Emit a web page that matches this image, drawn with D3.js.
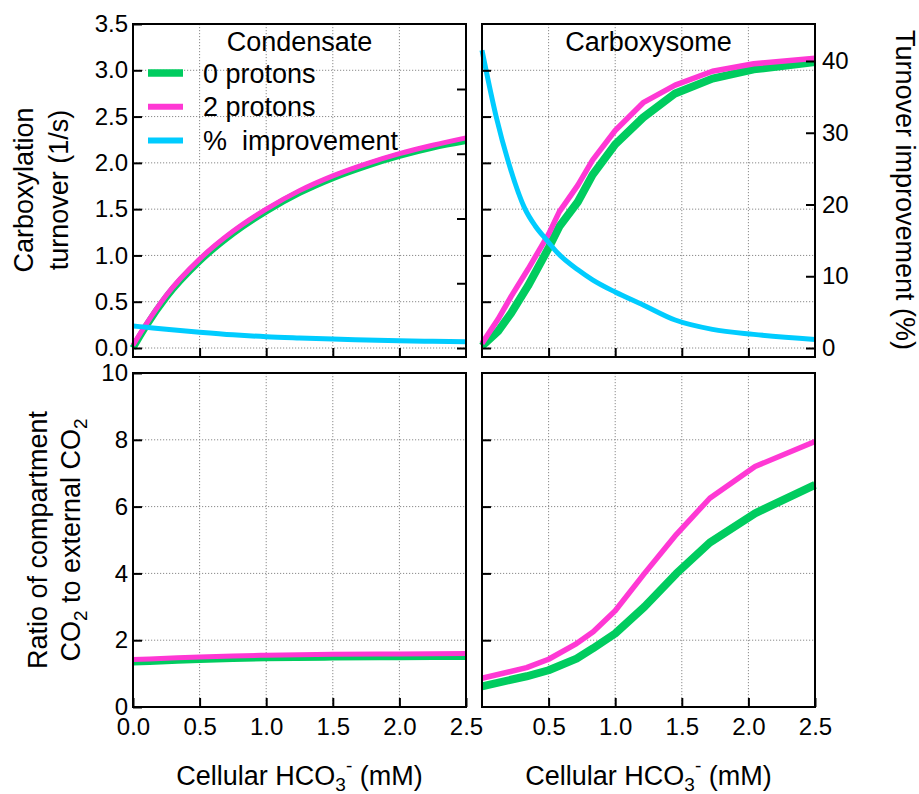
<!DOCTYPE html>
<html>
<head>
<meta charset="utf-8">
<script src="https://cdn.jsdelivr.net/npm/d3@7"></script>
<style>
body { margin: 0; background: #fff; }
text { font-family: "Liberation Sans", Arial, Helvetica, sans-serif; fill: #000; }
</style>
</head>
<body>
<svg id="chart" width="919" height="794"></svg>
<script>

// ---- data ----
var xTicks = [0, 0.5, 1.0, 1.5, 2.0, 2.5];
var turnTicks = [0, 0.5, 1.0, 1.5, 2.0, 2.5, 3.0, 3.5];
var pctTicks = [0, 10, 20, 30, 40];
var ratioTicks = [0, 2, 4, 6, 8, 10];

// condensate, turnover (1/s)
var condX = [0, 0.1, 0.25, 0.5, 0.75, 1.0, 1.25, 1.5, 1.75, 2.0, 2.25, 2.5];
var condTurn0 = [0.0, 0.24, 0.55, 0.94, 1.24, 1.48, 1.68, 1.84, 1.97, 2.08, 2.17, 2.24];
var condTurn2 = [0.03, 0.26, 0.57, 0.96, 1.26, 1.50, 1.70, 1.86, 1.99, 2.10, 2.19, 2.27];
var condImprove = [3.4, 3.2, 2.9, 2.45, 2.05, 1.75, 1.55, 1.38, 1.25, 1.12, 1.04, 0.97];

// carboxysome, turnover (1/s)
var carbTurnX = [0, 0.12, 0.22, 0.345, 0.5, 0.58, 0.72, 0.83, 1.0, 1.21, 1.45, 1.73, 2.04, 2.5];
var carbTurn0 = [0.02, 0.18, 0.38, 0.67, 1.08, 1.31, 1.58, 1.87, 2.2, 2.49, 2.75, 2.91, 3.01, 3.09];
var carbTurn2 = [0.05, 0.31, 0.56, 0.85, 1.23, 1.47, 1.76, 2.03, 2.35, 2.65, 2.84, 2.99, 3.07, 3.13];
var carbImpX = [0, 0.107, 0.2, 0.32, 0.4, 0.483, 0.57, 0.72, 0.83, 1.0, 1.21, 1.45, 1.73, 2.04, 2.5];
var carbImprove = [41.5, 32.2, 25.8, 19.5, 17.0, 15.1, 13.2, 10.9, 9.5, 7.8, 6.0, 3.9, 2.6, 1.9, 1.2];

// ratio of compartment CO2 to external CO2
var ratioCondX = [0, 0.25, 0.5, 0.75, 1.0, 1.5, 2.0, 2.5];
var ratioCond0 = [1.33, 1.37, 1.41, 1.44, 1.46, 1.48, 1.49, 1.50];
var ratioCond2 = [1.42, 1.46, 1.50, 1.53, 1.55, 1.58, 1.59, 1.60];
var ratioCarbX = [0, 0.335, 0.5, 0.71, 0.835, 1.0, 1.22, 1.46, 1.71, 2.05, 2.5];
var ratioCarb0 = [0.62, 0.92, 1.1, 1.45, 1.76, 2.2, 3.0, 4.0, 4.92, 5.8, 6.65];
var ratioCarb2 = [0.86, 1.18, 1.43, 1.9, 2.25, 2.88, 4.0, 5.17, 6.25, 7.2, 7.95];

var seriesNames = ["0 protons", "2 protons", "%  improvement"];

// ---- styles ----
var green = "#00cc5f", magenta = "#ff38d4", cyan = "#00ccff";
var tickFont = 24, labelFont = 27;

var svg = d3.select("#chart");

// scales
var xLeft = d3.scaleLinear().domain([0, 2.5]).range([133, 466]);
var xRight = d3.scaleLinear().domain([0, 2.5]).range([482, 815]);
var yTurn = d3.scaleLinear().domain([0, 3.5]).range([348, 24]);
var yPctCond = d3.scaleLinear().domain([0, 40]).range([348, 89]);
var yPctCarb = d3.scaleLinear().domain([0, 40]).range([348, 61]);
var yRatio = d3.scaleLinear().domain([0, 10]).range([707, 373]);

var topBox = [24, 357];
var bottomBox = [373, 707];

function styleAxis(g) {
    g.select(".domain").remove();
    g.selectAll(".tick line").attr("stroke", "#000").attr("stroke-width", 2);
    g.selectAll(".tick text").attr("font-size", tickFont).attr("fill", "#000")
        .attr("font-family", "'Liberation Sans', Arial, sans-serif");
}

function drawGrid(xs, ys, xVals, yVals, box) {
    var g = svg.append("g").attr("class", "grid");
    g.selectAll("line.gx").data(xVals).enter().append("line")
        .attr("x1", xs).attr("x2", xs).attr("y1", box[0]).attr("y2", box[1]);
    g.selectAll("line.gy").data(yVals).enter().append("line")
        .attr("y1", ys).attr("y2", ys).attr("x1", xs.range()[0]).attr("x2", xs.range()[1]);
    g.selectAll("line").attr("stroke", "#8a8a8a").attr("stroke-width", 1)
        .attr("stroke-dasharray", "1.2,1.8");
}

function drawLine(xs, ys, xArr, yArr, color, width, curve) {
    var pts = xArr.map(function (x, i) { return [x, yArr[i]]; });
    svg.append("path").datum(pts)
        .attr("fill", "none").attr("stroke", color).attr("stroke-width", width)
        .attr("stroke-linejoin", "round")
        .attr("d", d3.line().x(function (d) { return xs(d[0]); })
            .y(function (d) { return ys(d[1]); }).curve(curve));
}

function drawFrame(xs, box) {
    svg.append("rect")
        .attr("x", xs.range()[0]).attr("y", box[0])
        .attr("width", xs.range()[1] - xs.range()[0]).attr("height", box[1] - box[0])
        .attr("fill", "none").attr("stroke", "#000").attr("stroke-width", 2);
}

var inner = [0.5, 1.0, 1.5, 2.0];

// ---- grids ----
drawGrid(xLeft, yTurn, inner, turnTicks.slice(0, 7), topBox);
drawGrid(xRight, yTurn, inner, turnTicks.slice(0, 7), topBox);
drawGrid(xLeft, yRatio, inner, [2, 4, 6, 8], bottomBox);
drawGrid(xRight, yRatio, inner, [2, 4, 6, 8], bottomBox);

// ---- data lines ----
drawLine(xLeft, yTurn, condX, condTurn0, green, 7, d3.curveMonotoneX);
drawLine(xLeft, yTurn, condX, condTurn2, magenta, 5, d3.curveMonotoneX);
drawLine(xLeft, yPctCond, condX, condImprove, cyan, 5, d3.curveMonotoneX);

drawLine(xRight, yTurn, carbTurnX, carbTurn0, green, 8, d3.curveLinear);
drawLine(xRight, yTurn, carbTurnX, carbTurn2, magenta, 5.5, d3.curveLinear);
drawLine(xRight, yPctCarb, carbImpX, carbImprove, cyan, 5, d3.curveMonotoneX);

drawLine(xLeft, yRatio, ratioCondX, ratioCond0, green, 6, d3.curveMonotoneX);
drawLine(xLeft, yRatio, ratioCondX, ratioCond2, magenta, 5, d3.curveMonotoneX);

drawLine(xRight, yRatio, ratioCarbX, ratioCarb0, green, 8, d3.curveLinear);
drawLine(xRight, yRatio, ratioCarbX, ratioCarb2, magenta, 5.5, d3.curveLinear);

// ---- frames ----
drawFrame(xLeft, topBox);
drawFrame(xRight, topBox);
drawFrame(xLeft, bottomBox);
drawFrame(xRight, bottomBox);

// ---- axes (ticks point inward) ----
svg.append("g").attr("transform", "translate(133,0)")
    .call(d3.axisLeft(yTurn).tickValues(turnTicks).tickFormat(d3.format(".1f"))
        .tickSizeInner(-9).tickSizeOuter(0).tickPadding(5))
    .call(styleAxis);
svg.append("g").attr("transform", "translate(466,0)")
    .call(d3.axisRight(yPctCond).tickValues(pctTicks).tickFormat("")
        .tickSizeInner(-9).tickSizeOuter(0))
    .call(styleAxis);
svg.append("g").attr("transform", "translate(0,357)")
    .call(d3.axisBottom(xLeft).tickValues(inner).tickFormat("")
        .tickSizeInner(-9).tickSizeOuter(0))
    .call(styleAxis);

svg.append("g").attr("transform", "translate(482,0)")
    .call(d3.axisLeft(yTurn).tickValues(turnTicks.slice(0, 7)).tickFormat("")
        .tickSizeInner(-9).tickSizeOuter(0))
    .call(styleAxis);
svg.append("g").attr("transform", "translate(815,0)")
    .call(d3.axisRight(yPctCarb).tickValues(pctTicks).tickFormat(d3.format("d"))
        .tickSizeInner(-9).tickSizeOuter(0).tickPadding(7))
    .call(styleAxis);
svg.append("g").attr("transform", "translate(0,357)")
    .call(d3.axisBottom(xRight).tickValues(inner).tickFormat("")
        .tickSizeInner(-9).tickSizeOuter(0))
    .call(styleAxis);

svg.append("g").attr("transform", "translate(133,0)")
    .call(d3.axisLeft(yRatio).tickValues(ratioTicks).tickFormat(d3.format("d"))
        .tickSizeInner(-9).tickSizeOuter(0).tickPadding(5))
    .call(styleAxis);
svg.append("g").attr("transform", "translate(0,707)")
    .call(d3.axisBottom(xLeft).tickValues(xTicks).tickFormat(d3.format(".1f"))
        .tickSizeInner(-9).tickSizeOuter(0).tickPadding(11))
    .call(styleAxis);

svg.append("g").attr("transform", "translate(482,0)")
    .call(d3.axisLeft(yRatio).tickValues([2, 4, 6, 8]).tickFormat("")
        .tickSizeInner(-9).tickSizeOuter(0))
    .call(styleAxis);
svg.append("g").attr("transform", "translate(0,707)")
    .call(d3.axisBottom(xRight).tickValues(xTicks.slice(1)).tickFormat(d3.format(".1f"))
        .tickSizeInner(-9).tickSizeOuter(0).tickPadding(11))
    .call(styleAxis);

// ---- panel titles ----
svg.append("text").attr("x", 299.5).attr("y", 51).attr("text-anchor", "middle")
    .attr("font-size", labelFont).text("Condensate");
svg.append("text").attr("x", 648.5).attr("y", 51).attr("text-anchor", "middle")
    .attr("font-size", labelFont).text("Carboxysome");

// ---- legend ----
var legendColors = [green, magenta, cyan];
var legendWidths = [7.5, 6, 6];
var legend = svg.append("g").attr("transform", "translate(148,73)");
legend.selectAll("line").data(seriesNames).enter().append("line")
    .attr("x1", 0).attr("x2", 35)
    .attr("y1", function (d, i) { return i * 33.7; })
    .attr("y2", function (d, i) { return i * 33.7; })
    .attr("stroke", function (d, i) { return legendColors[i]; })
    .attr("stroke-width", function (d, i) { return legendWidths[i]; });
legend.selectAll("text").data(seriesNames).enter().append("text")
    .attr("x", 55).attr("y", function (d, i) { return i * 33.7 + 9.5; })
    .attr("font-size", labelFont).attr("xml:space", "preserve")
    .style("white-space", "pre")
    .text(function (d) { return d; });

// ---- axis titles ----
var yl1 = svg.append("text").attr("transform", "translate(33,190) rotate(-90)")
    .attr("text-anchor", "middle").attr("font-size", labelFont);
yl1.append("tspan").attr("x", 0).attr("y", 0).text("Carboxylation");
yl1.append("tspan").attr("x", 0).attr("y", 35).text("turnover (1/s)");

var yl2 = svg.append("text").attr("transform", "translate(47,540) rotate(-90)")
    .attr("text-anchor", "middle").attr("font-size", labelFont);
yl2.append("tspan").attr("x", 0).attr("y", 0).text("Ratio of compartment");
var yl2b = svg.append("text").attr("transform", "translate(80,540) rotate(-90)")
    .attr("text-anchor", "middle").attr("font-size", labelFont);
yl2b.append("tspan").text("CO");
yl2b.append("tspan").attr("font-size", 19).attr("dy", 7).text("2");
yl2b.append("tspan").attr("dy", -7).text(" to external CO");
yl2b.append("tspan").attr("font-size", 19).attr("dy", 7).text("2");

svg.append("text").attr("transform", "translate(896,190) rotate(90)")
    .attr("text-anchor", "middle").attr("font-size", labelFont)
    .text("Turnover improvement (%)");

function xTitle(cx) {
    var t = svg.append("text").attr("x", cx).attr("y", 785)
        .attr("text-anchor", "middle").attr("font-size", labelFont);
    t.append("tspan").text("Cellular HCO");
    t.append("tspan").attr("font-size", 19).attr("dy", 6).text("3");
    t.append("tspan").attr("font-size", 19).attr("dy", -19).text("-");
    t.append("tspan").attr("dy", 13).text(" (mM)");
}
xTitle(299.5);
xTitle(648.5);

</script>
</body>
</html>
